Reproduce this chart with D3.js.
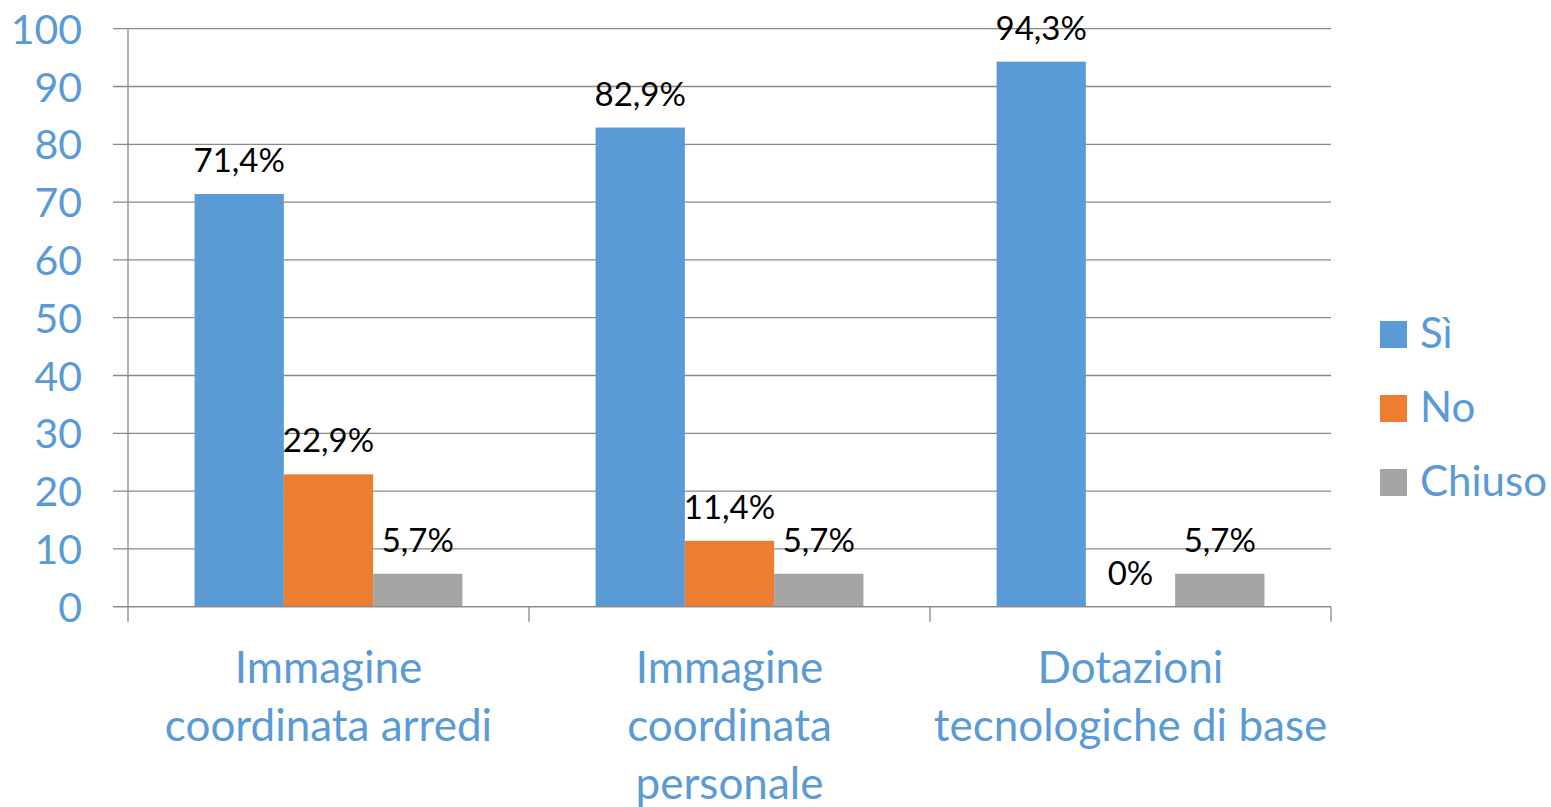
<!DOCTYPE html>
<html>
<head>
<meta charset="utf-8">
<script src="https://cdn.jsdelivr.net/npm/d3@7"></script>
<style>
  body { margin: 0; background: #fff; }
  text { font-family: Lato, "Noto Sans", sans-serif; }
</style>
</head>
<body>
<svg id="chart" width="1551" height="807"></svg>
<script>
// Chart data
var categories = ["Immagine coordinata arredi", "Immagine coordinata personale", "Dotazioni tecnologiche di base"];
var categoryLines = [["Immagine", "coordinata arredi"], ["Immagine", "coordinata", "personale"], ["Dotazioni", "tecnologiche di base"]];
var seriesNames = ["Sì", "No", "Chiuso"];
var siValues = [71.4, 82.9, 94.3];
var noValues = [22.9, 11.4, 0];
var chiusoValues = [5.7, 5.7, 5.7];
var seriesColors = ["#5b9bd5", "#ed7d31", "#a5a5a5"];
var yTicks = [0, 10, 20, 30, 40, 50, 60, 70, 80, 90, 100];

(function () {
    var series = [siValues, noValues, chiusoValues];

    var svg = d3.select("#chart"),
        plotLeft = 128, plotRight = 1331, plotTop = 28.7, plotBottom = 606.7;

    var y = d3.scaleLinear().domain([0, 100]).range([plotBottom, plotTop]);

    var x0 = d3.scaleBand().domain(categories).range([plotLeft, plotRight]);

    // bars take about 2/3 of each group, Excel-like gap
    var gap = x0.bandwidth() * 0.166;
    var x1 = d3.scaleBand().domain(seriesNames)
        .range([gap, x0.bandwidth() - gap]);

    var fmt = function (v) { return String(v).replace(".", ",") + "%"; };

    // Gridlines
    svg.append("g").selectAll("line")
        .data(yTicks)
        .enter().append("line")
        .attr("x1", plotLeft - 15)
        .attr("x2", plotRight)
        .attr("y1", function (d) { return y(d); })
        .attr("y2", function (d) { return y(d); })
        .attr("stroke", "#898989")
        .attr("stroke-width", 1.3);

    // Y tick labels
    svg.append("g").selectAll("text")
        .data(yTicks)
        .enter().append("text")
        .attr("x", 82)
        .attr("y", function (d) { return y(d) + 15; })
        .attr("text-anchor", "end")
        .attr("fill", "#5b9bd5")
        .attr("font-size", 41)
        .text(function (d) { return d; });

    // Y axis line
    svg.append("line")
        .attr("x1", plotLeft).attr("x2", plotLeft)
        .attr("y1", plotTop).attr("y2", plotBottom)
        .attr("stroke", "#898989").attr("stroke-width", 1.3);

    // Category tick marks
    svg.append("g").selectAll("line")
        .data(categories.concat([null]))
        .enter().append("line")
        .attr("x1", function (d) { return d === null ? plotRight : x0(d); })
        .attr("x2", function (d) { return d === null ? plotRight : x0(d); })
        .attr("y1", plotBottom)
        .attr("y2", plotBottom + 15)
        .attr("stroke", "#898989")
        .attr("stroke-width", 1.3);

    // Bars + data labels
    var groups = svg.append("g").selectAll("g")
        .data(categories)
        .enter().append("g")
        .attr("transform", function (d) { return "translate(" + x0(d) + ",0)"; });

    groups.each(function (cat, ci) {
        var g = d3.select(this);
        seriesNames.forEach(function (s, si) {
            var v = series[si][ci];
            g.append("rect")
                .attr("x", x1(s))
                .attr("width", x1.bandwidth())
                .attr("y", y(v))
                .attr("height", y(0) - y(v))
                .attr("fill", seriesColors[si]);
            g.append("text")
                .attr("x", x1(s) + x1.bandwidth() / 2)
                .attr("y", y(v) - 22)
                .attr("text-anchor", "middle")
                .attr("fill", "#000")
                .attr("font-size", 33)
                .text(fmt(v));
        });
    });

    // X axis line (over bars)
    svg.append("line")
        .attr("x1", plotLeft - 15).attr("x2", plotRight)
        .attr("y1", plotBottom).attr("y2", plotBottom)
        .attr("stroke", "#898989").attr("stroke-width", 1.3);

    // Category labels
    svg.append("g").selectAll("text")
        .data(categories)
        .enter().append("text")
        .attr("text-anchor", "middle")
        .attr("fill", "#5b9bd5")
        .attr("font-size", 44)
        .each(function (d, i) {
            var t = d3.select(this);
            categoryLines[i].forEach(function (line, li) {
                t.append("tspan")
                    .attr("x", x0(d) + x0.bandwidth() / 2)
                    .attr("y", 683 + li * 58)
                    .text(line);
            });
        });

    // Legend
    var legend = svg.append("g").selectAll("g")
        .data(seriesNames)
        .enter().append("g")
        .attr("transform", function (d, i) { return "translate(1380," + (321 + i * 74) + ")"; });

    legend.append("rect")
        .attr("width", 27).attr("height", 27)
        .attr("fill", function (d, i) { return seriesColors[i]; });

    legend.append("text")
        .attr("x", 40)
        .attr("y", 27)
        .attr("fill", "#5b9bd5")
        .attr("font-size", 42)
        .text(function (d) { return d; });
})();
</script>
</body>
</html>
